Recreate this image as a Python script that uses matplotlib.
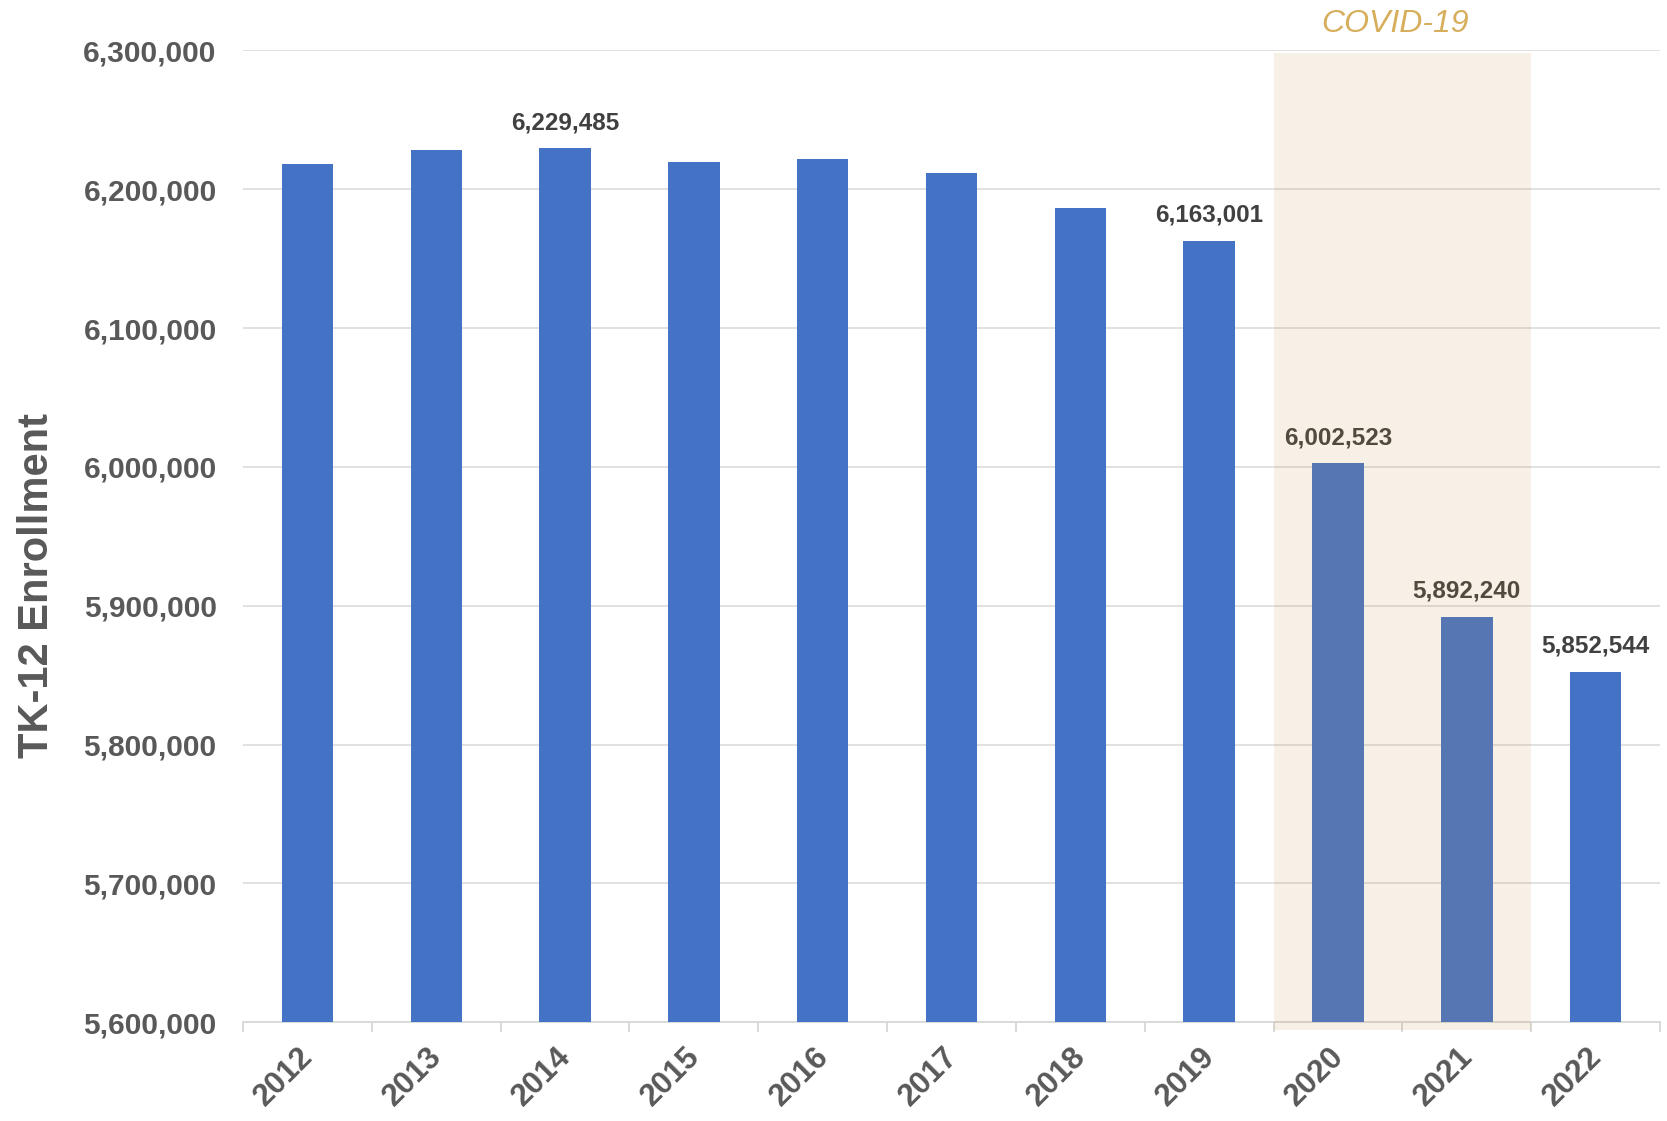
import numpy as np
import matplotlib
matplotlib.use("Agg")
import matplotlib.pyplot as plt
from matplotlib.patches import Rectangle
from matplotlib.ticker import FuncFormatter
from matplotlib.transforms import ScaledTranslation

plt.rcParams['font.family'] = ['Liberation Sans', 'DejaVu Sans']

# TK-12 enrollment by school year (start year)
years = ['2012', '2013', '2014', '2015', '2016', '2017', '2018', '2019', '2020', '2021', '2022']
enrollment = [6218400, 6228300, 6229485, 6219900, 6221400, 6211400, 6186200,
              6163001, 6002523, 5892240, 5852544]
labelled_years = ['2014', '2019', '2020', '2021', '2022']
covid_years = ['2020', '2021']
y_ticks = [5600000, 5700000, 5800000, 5900000, 6000000, 6100000, 6200000, 6300000]

bar_color = '#4472C4'
grid_color = '#D9D9D9'
tick_color = '#595959'

fig = plt.figure(figsize=(16.67, 11.21), dpi=100)
ax = fig.add_axes([0.1458, 0.0880, 0.8500, 0.8671])

x = np.arange(len(years))
ax.bar(x, enrollment, width=0.40, color=bar_color, zorder=3)

# value labels above selected bars
for xi, yr, val in zip(x, years, enrollment):
    if yr in labelled_years:
        ax.annotate(f"{val:,}", (xi, val), xytext=(0, 10), textcoords='offset points',
                    ha='center', va='bottom', fontsize=17.5, fontweight='bold',
                    color='#404040', zorder=4)

ax.set_ylim(5600000, 6300000)
ax.set_xlim(-0.5, len(years) - 0.5)
ax.set_yticks(y_ticks)
ax.yaxis.set_major_formatter(FuncFormatter(lambda v, p: f"{int(v):,}"))
ax.grid(axis='y', color=grid_color, linewidth=1.1, zorder=0)
ax.set_axisbelow(True)

for side in ['top', 'right', 'left']:
    ax.spines[side].set_visible(False)
ax.spines['bottom'].set_color(grid_color)
ax.spines['bottom'].set_linewidth(1.4)

ax.set_xticks(x)
ax.set_xticklabels(years, rotation=45, ha='right', fontsize=22.5, fontweight='bold', color=tick_color)
ax.set_xticks(np.arange(-0.5, len(years), 1), minor=True)
ax.tick_params(axis='x', which='major', length=0, pad=14)
ax.tick_params(axis='x', which='minor', length=7, width=1.4, color=grid_color)
ax.tick_params(axis='y', length=0, pad=19, labelsize=21.5, labelcolor=tick_color)
for lbl in ax.get_yticklabels():
    lbl.set_fontweight('bold')

# nudge the rotated year labels to the right (after tick_params, which resets transforms)
shift = ScaledTranslation(12 / 100, 0, fig.dpi_scale_trans)
for lbl in ax.get_xticklabels():
    lbl.set_transform(lbl.get_transform() + shift)

# shaded COVID-19 period, laid over bars and labels
i0 = years.index(covid_years[0]) - 0.5
i1 = years.index(covid_years[-1]) + 0.5
shade = Rectangle((i0, -0.008), i1 - i0, 1.005, transform=ax.get_xaxis_transform(),
                  facecolor='#C8913F', alpha=0.13, edgecolor='none', zorder=5, clip_on=False)
ax.add_patch(shade)
ax.text((i0 + i1) / 2 - 0.06, 1.027, 'COVID-19', transform=ax.get_xaxis_transform(),
        ha='center', va='center', fontsize=23, style='italic', color='#D6AE5C')

fig.text(0.022, 0.478, 'TK-12 Enrollment', rotation=90, ha='center', va='center',
         fontsize=30, fontweight='bold', color='#595959')

fig.savefig('out.png', dpi=100)
